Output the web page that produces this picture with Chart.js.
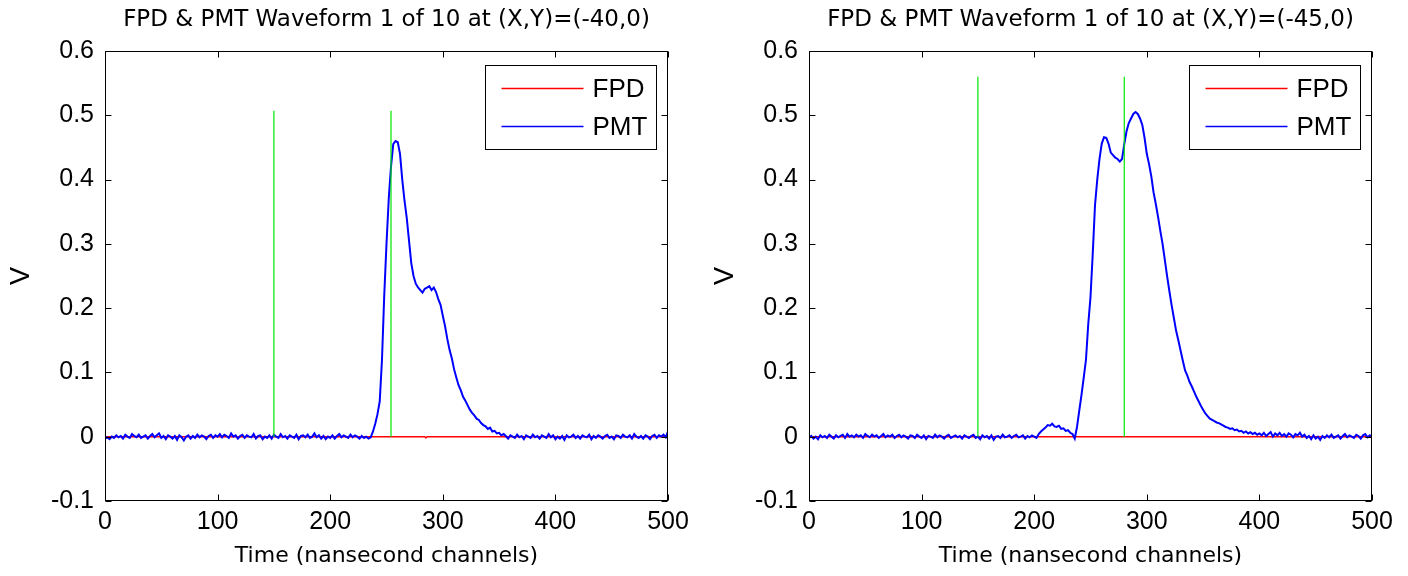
<!DOCTYPE html>
<html><head><meta charset="utf-8">
<script src="https://cdn.jsdelivr.net/npm/chart.js@4"></script>
<style>
html,body{margin:0;padding:0;background:#fff;}
#wrap{position:relative;width:1408px;height:576px;overflow:hidden;}
canvas{position:absolute;top:0;}
</style></head><body>
<div id="wrap">
<canvas id="c1" width="704" height="576" style="left:0"></canvas>
<canvas id="c2" width="704" height="576" style="left:704px"></canvas>
</div>
<script>
// ---------------- data ----------------
const titleLeft = 'FPD & PMT Waveform 1 of 10 at (X,Y)=(-40,0)';
const titleRight = 'FPD & PMT Waveform 1 of 10 at (X,Y)=(-45,0)';
const xLabel = 'Time (nansecond channels)';
const yLabel = 'V';
const xTicks = [0, 100, 200, 300, 400, 500];
const yTicks = [-0.1, 0, 0.1, 0.2, 0.3, 0.4, 0.5, 0.6];

// PMT sampled every 2 channels (0..500)
const pmtLeft = [
 -0.003,-0.001,-0.004,0.000,-0.002,0.002,-0.001,0.001,-0.003,0.003,
 0.000,-0.002,0.004,0.001,-0.001,0.003,-0.002,0.000,0.002,-0.003,
 0.001,0.004,-0.001,0.002,0.005,-0.002,0.001,-0.004,0.002,0.000,
 -0.003,0.001,-0.005,0.002,-0.001,-0.006,0.000,0.002,-0.003,0.001,
 -0.002,0.003,-0.001,0.002,0.000,-0.004,0.001,0.003,-0.002,0.002,
 0.000,0.004,-0.001,0.003,0.001,-0.002,0.005,0.000,0.002,-0.003,
 0.001,0.003,-0.002,0.002,0.000,-0.001,0.004,-0.003,0.001,0.002,
 -0.004,0.000,-0.002,0.002,-0.003,0.003,0.000,-0.002,0.004,-0.001,
 0.001,-0.003,0.002,0.000,-0.002,0.003,-0.004,0.001,0.002,-0.001,
 0.003,-0.002,0.000,0.005,-0.001,0.002,-0.003,0.001,-0.004,0.000,
 -0.002,0.002,-0.003,0.001,0.004,-0.001,0.002,0.000,-0.002,0.003,
 -0.001,0.002,0.000,-0.003,0.001,-0.002,0.000,-0.003,
 -0.001,0.008,0.020,0.035,0.055,0.120,0.220,0.300,0.370,0.420,
 0.455,0.460,0.458,0.440,0.400,0.367,0.340,0.305,0.270,0.250,
 0.238,0.232,0.228,0.224,0.230,0.232,0.234,0.228,0.232,0.225,
 0.214,0.205,0.188,0.172,0.152,0.135,0.122,0.105,0.092,0.080,
 0.072,0.062,0.056,0.049,0.042,0.037,0.033,0.028,0.026,0.021,
 0.018,0.016,0.012,0.014,0.008,0.009,0.005,0.006,0.002,0.004,
 0.001,-0.003,0.002,0.000,-0.002,0.003,-0.001,0.001,-0.004,0.002,
 0.000,-0.002,0.003,-0.001,0.001,-0.003,0.002,0.000,-0.002,0.004,
 -0.001,0.002,-0.004,0.000,-0.003,0.001,-0.005,0.002,-0.001,0.000,
 0.003,-0.002,0.001,-0.003,0.002,0.000,-0.001,0.003,-0.004,0.001,
 -0.002,0.002,0.000,-0.003,0.001,0.003,-0.002,0.000,-0.004,0.002,
 0.001,-0.002,0.003,0.000,-0.001,0.002,-0.003,0.004,0.000,-0.002,
 0.001,-0.003,0.002,0.000,-0.004,0.001,0.003,-0.002,0.002,0.000,
 0.003,-0.001,0.008
];
const pmtRight = [
 -0.002,0.001,-0.003,0.000,-0.004,0.002,-0.001,0.001,-0.002,0.003,
 0.000,-0.003,0.002,-0.001,0.001,0.003,-0.002,0.004,0.000,0.002,
 -0.001,0.003,0.000,0.002,-0.002,0.004,0.001,-0.001,0.003,0.000,
 0.002,-0.002,0.001,0.004,-0.001,0.002,0.000,0.003,-0.002,0.001,
 0.003,-0.001,0.002,0.000,-0.003,0.002,0.001,-0.002,0.003,0.000,
 -0.002,0.002,-0.004,0.001,0.000,-0.002,0.003,-0.001,0.002,0.000,
 -0.003,0.001,0.003,-0.002,0.000,0.002,-0.001,0.001,-0.003,0.002,
 0.000,-0.002,0.001,0.003,-0.002,0.000,-0.004,0.002,-0.001,0.001,
 -0.003,0.002,-0.005,0.000,0.001,-0.002,0.003,-0.001,0.000,0.002,
 -0.002,0.001,0.003,-0.001,0.000,0.002,-0.003,0.001,-0.001,0.002,
 0.000,-0.002,0.004,0.008,0.011,0.014,0.018,0.017,0.020,0.016,
 0.015,0.017,0.012,0.013,0.009,0.010,0.006,0.004,-0.003,0.015,
 0.040,0.065,0.092,0.120,0.175,0.217,0.285,0.360,0.400,0.432,
 0.456,0.466,0.465,0.456,0.442,0.438,0.434,0.432,0.428,0.432,
 0.455,0.475,0.488,0.495,0.502,0.505,0.502,0.495,0.485,0.465,
 0.440,0.424,0.405,0.380,0.362,0.342,0.320,0.300,0.275,0.250,
 0.227,0.205,0.185,0.165,0.150,0.134,0.118,0.103,0.095,0.085,
 0.078,0.070,0.062,0.055,0.048,0.042,0.036,0.032,0.028,0.026,
 0.024,0.022,0.021,0.019,0.017,0.015,0.014,0.012,0.013,0.010,
 0.011,0.008,0.009,0.006,0.008,0.005,0.007,0.004,0.006,0.003,
 0.005,
 0.002,0.006,0.001,0.004,0.007,0.000,0.005,0.002,0.006,0.001,
 0.004,0.000,0.005,0.003,-0.001,0.004,0.002,0.006,0.000,0.003,
 -0.002,0.001,-0.004,0.002,-0.003,0.000,-0.005,0.001,-0.002,0.002,
 -0.001,0.003,-0.002,0.000,0.002,-0.003,0.001,0.004,-0.001,0.002,
 0.000,-0.002,0.003,0.001,-0.003,0.002,0.004,-0.001,0.002,0.001
];
// FPD trace (flat)
const fpdX = [0, 100, 200, 284, 285, 286, 300, 400, 500];
const fpdLeft = [0, 0, 0, 0, -0.002, 0, 0, 0, 0];
const fpdRight = [0, 0, 0, 0, 0, 0, 0, 0, 0];
// green marker lines: channel positions and heights
const markLeftX = [150, 254];
const markLeftTop = 0.507;
const markRightX = [150, 280];
const markRightTop = 0.56;

// sampling grid of the PMT arrays (every 2 channels)
const channels = pmtLeft.map((_, i) => i * 2);

// ---------------- drawing ----------------
const FONT = "'Liberation Sans', Arial, Helvetica, sans-serif";
const WIDE = "'DejaVu Sans', Verdana, sans-serif";

const boxPlugin = {
  id: 'matlabBox',
  afterDraw(chart) {
    const {ctx, chartArea: a, scales} = chart;
    ctx.save();
    ctx.strokeStyle = '#000';
    ctx.lineWidth = 1;
    const L = Math.round(a.left) + 0.5, R = Math.round(a.right) - 0.5;
    const T = Math.round(a.top) + 0.5, B = Math.round(a.bottom) - 0.5;
    ctx.strokeRect(L, T, R - L, B - T);
    ctx.beginPath();
    scales.x.ticks.forEach(t => {
      const px = Math.round(scales.x.getPixelForValue(t.value)) + 0.5;
      ctx.moveTo(px, B); ctx.lineTo(px, B - 6);
      ctx.moveTo(px, T); ctx.lineTo(px, T + 6);
    });
    scales.y.ticks.forEach(t => {
      const py = Math.round(scales.y.getPixelForValue(t.value)) + 0.5;
      ctx.moveTo(L, py); ctx.lineTo(L + 6, py);
      ctx.moveTo(R, py); ctx.lineTo(R - 6, py);
    });
    ctx.stroke();
    // legend box inside the axes
    const items = chart.data.datasets.filter(d => d.inLegend);
    const bw = 171, bh = 84;
    const bx = Math.round(a.right - 12 - bw) + 0.5, by = Math.round(a.top + 14) + 0.5;
    ctx.fillStyle = '#fff';
    ctx.fillRect(bx, by, bw, bh);
    ctx.strokeStyle = '#000';
    ctx.strokeRect(bx, by, bw, bh);
    ctx.font = '26px ' + FONT;
    ctx.textBaseline = 'middle';
    ctx.textAlign = 'left';
    items.forEach((d, i) => {
      const y = Math.round(by + 22 + i * 38) + 0.5;
      ctx.strokeStyle = d.borderColor;
      ctx.lineWidth = 1.5;
      ctx.beginPath(); ctx.moveTo(bx + 16, y); ctx.lineTo(bx + 98, y); ctx.stroke();
      ctx.fillStyle = '#000';
      ctx.fillText(d.label, bx + 107, y + 1);
    });
    ctx.restore();
  }
};

function makeChart(id, title, pmt, fpd, markX, markTop) {
  const datasets = [];
  datasets.push({
    label: 'FPD', data: fpdX.map((c, i) => ({x: c, y: fpd[i]})),
    borderColor: '#ff0000', borderWidth: 1.5, pointRadius: 0, order: 2, inLegend: true
  });
  datasets.push({
    label: 'PMT', data: channels.map((c, i) => ({x: c, y: pmt[i]})),
    borderColor: '#0000ff', borderWidth: 2, pointRadius: 0, order: 1, inLegend: true
  });
  markX.forEach(x => datasets.push({
    label: 'marker', data: [{x: x, y: 0}, {x: x, y: markTop}],
    borderColor: '#00e600', borderWidth: 1.2, pointRadius: 0, order: 0, inLegend: false
  }));

  return new Chart(document.getElementById(id), {
    type: 'line',
    data: {datasets},
    plugins: [boxPlugin],
    options: {
      responsive: false,
      animation: false,
      devicePixelRatio: 1,
      layout: {padding: {left: 0, right: 36, top: 0, bottom: 0}},
      plugins: {
        legend: {display: false},
        tooltip: {enabled: false},
        title: {
          display: true, text: title, fullSize: false, color: '#000',
          font: {family: WIDE, size: 23, weight: 'normal', lineHeight: 1.2},
          padding: {top: 6.7, bottom: 16.7}
        }
      },
      scales: {
        x: {
          type: 'linear', min: xTicks[0], max: xTicks[xTicks.length - 1],
          grid: {display: false, drawTicks: false},
          border: {display: false},
          afterBuildTicks: s => { s.ticks = xTicks.map(v => ({value: v})); },
          ticks: {
            color: '#000', padding: 6, maxRotation: 0, autoSkip: false,
            font: {family: FONT, size: 25, lineHeight: 1.2},
            callback: v => String(v)
          },
          title: {
            display: true, text: xLabel, color: '#000',
            font: {family: WIDE, size: 22, lineHeight: 1.1},
            padding: {top: 1, bottom: 7.9}
          }
        },
        y: {
          type: 'linear', min: yTicks[0], max: yTicks[yTicks.length - 1],
          grid: {display: false, drawTicks: false},
          border: {display: false},
          afterBuildTicks: s => { s.ticks = yTicks.map(v => ({value: v})); },
          afterFit: s => { s.width = 105; },
          ticks: {
            color: '#000', padding: 11, autoSkip: false,
            font: {family: FONT, size: 25, lineHeight: 1.2},
            callback: v => { const r = Math.round(v * 10) / 10; return r === 0 ? '0' : String(r); }
          },
          title: {
            display: true, text: yLabel, color: '#000',
            font: {family: FONT, size: 27, lineHeight: 1.2},
            padding: {top: 5.8, bottom: 0}
          }
        }
      }
    }
  });
}

makeChart('c1', titleLeft, pmtLeft, fpdLeft, markLeftX, markLeftTop);
makeChart('c2', titleRight, pmtRight, fpdRight, markRightX, markRightTop);
</script>
</body></html>
